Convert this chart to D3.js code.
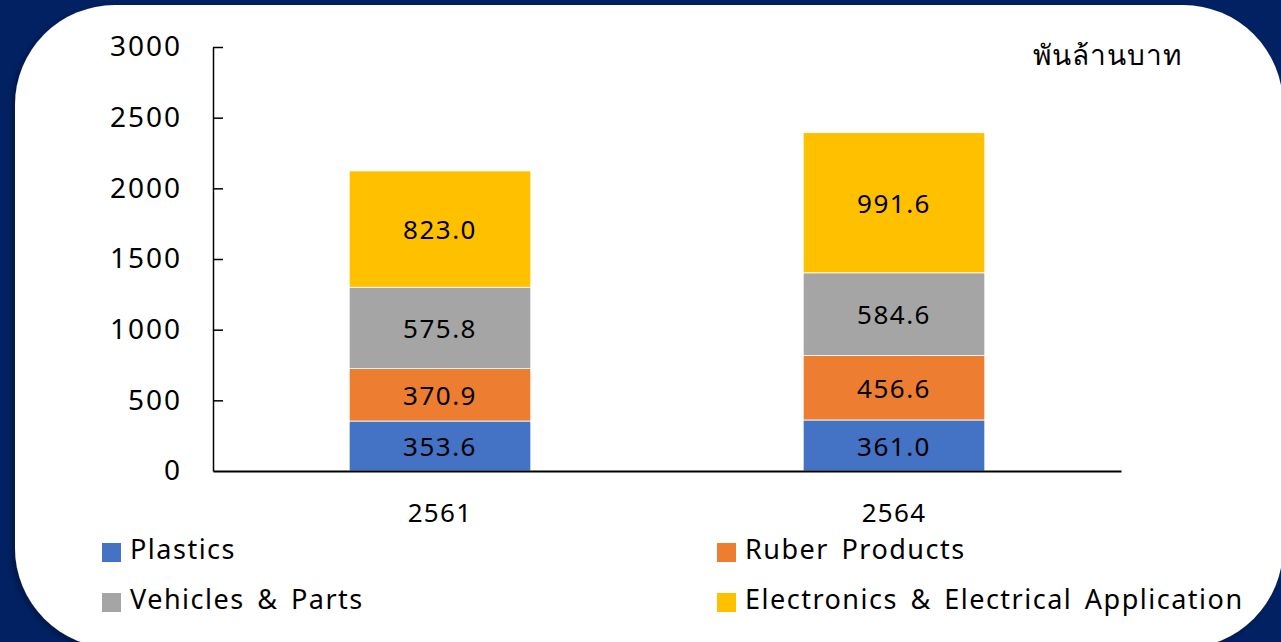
<!DOCTYPE html>
<html lang="th">

<head>
    <meta charset="UTF-8">
    <title>chart</title>
    <script src="https://d3js.org/d3.v7.min.js"></script>
    <style>
        body { margin: 0; background: #012163; }
        svg text { font-family: "Noto Sans", "Open Sans", sans-serif; fill: #000; }
    </style>
</head>

<body>
    <script>
        // data
        var years = ["2561", "2564"];
        var seriesNames = ["Plastics", "Ruber Products", "Vehicles & Parts", "Electronics & Electrical Application"];
        var plastics = [353.6, 361.0];
        var rubber = [370.9, 456.6];
        var vehicles = [575.8, 584.6];
        var electronics = [823.0, 991.6];
        var yTicks = [0, 500, 1000, 1500, 2000, 2500, 3000];
        var unitLabel = "พันล้านบาท";

        var colors = ["#4472C4", "#ED7D31", "#A5A5A5", "#FFC000"];

        var width = 1281, height = 642;
        var svg = d3.select("body").append("svg")
            .attr("width", width)
            .attr("height", height)
            .style("display", "block");

        // white card on navy, soft shadow on the left
        var defs = svg.append("defs");
        var f = defs.append("filter").attr("id", "shd").attr("x", "-5%").attr("y", "-5%").attr("width", "110%").attr("height", "110%");
        f.append("feDropShadow").attr("dx", -3).attr("dy", 2).attr("stdDeviation", 3)
            .attr("flood-color", "#000").attr("flood-opacity", 0.35);

        svg.append("rect")
            .attr("width", width).attr("height", height)
            .attr("fill", "#012163");
        svg.append("rect")
            .attr("x", 15).attr("y", 5)
            .attr("width", 1268).attr("height", 643)
            .attr("rx", 100).attr("ry", 100)
            .attr("fill", "#fff")
            .attr("filter", "url(#shd)");

        var rows = years.map(function (y, i) {
            return { year: y, s0: plastics[i], s1: rubber[i], s2: vehicles[i], s3: electronics[i] };
        });
        var stack = d3.stack().keys(["s0", "s1", "s2", "s3"]);
        var layers = stack(rows);

        var x = d3.scaleBand()
            .domain(years)
            .range([213, 1121])
            .paddingInner(0.6)
            .paddingOuter(0.3);
        var y = d3.scaleLinear()
            .domain([0, 3000])
            .range([471, 47]);

        // bars
        var g = svg.append("g");
        layers.forEach(function (layer, li) {
            g.selectAll(".seg" + li)
                .data(layer)
                .enter()
                .append("rect")
                .attr("x", function (d) { return x(d.data.year); })
                .attr("y", function (d) { return y(d[1]); })
                .attr("width", x.bandwidth())
                .attr("height", function (d) { return y(d[0]) - y(d[1]); })
                .attr("fill", colors[li])
                .attr("stroke", "#fff")
                .attr("stroke-width", 0.8);

            g.selectAll(".lab" + li)
                .data(layer)
                .enter()
                .append("text")
                .attr("x", function (d) { return x(d.data.year) + x.bandwidth() / 2; })
                .attr("y", function (d) { return (y(d[0]) + y(d[1])) / 2 + 1; })
                .attr("dy", "0.36em")
                .attr("text-anchor", "middle")
                .style("font-size", "26px")
                .style("letter-spacing", "1.5px")
                .text(function (d) { return (d[1] - d[0]).toFixed(1); });
        });

        // y axis, ticks point inward
        var yAxis = svg.append("g")
            .attr("transform", "translate(213,0)")
            .call(d3.axisLeft(y).tickValues(yTicks).tickSizeInner(-10).tickSizeOuter(0).tickPadding(31)
                .tickFormat(d3.format("d")));
        yAxis.select(".domain").attr("stroke", "#000").attr("stroke-width", 1.5);
        yAxis.selectAll(".tick line").attr("stroke", "#000").attr("stroke-width", 1.5);
        yAxis.selectAll("text").style("font-size", "28px").style("letter-spacing", "2px").attr("fill", "#000");
        yAxis.selectAll(".tick").filter(function (d) { return d === 0; }).select("line").remove();

        // x axis
        var xAxis = svg.append("g")
            .attr("transform", "translate(0,471)")
            .call(d3.axisBottom(x).tickSize(0).tickPadding(33));
        xAxis.select(".domain").attr("stroke", "#000").attr("stroke-width", 2);
        xAxis.selectAll("text").style("font-size", "26px").style("letter-spacing", "1.3px").attr("fill", "#000");

        // unit
        svg.append("text")
            .attr("x", 1182).attr("y", 65)
            .attr("text-anchor", "end")
            .style("font-size", "28px")
            .style("font-weight", "normal")
            .style("letter-spacing", "1px")
            .text(unitLabel);

        // legend
        var legendPos = [[102, 552], [717, 552], [102, 602], [717, 602]];
        var leg = svg.append("g");
        seriesNames.forEach(function (name, i) {
            var p = legendPos[i];
            leg.append("rect")
                .attr("x", p[0]).attr("y", p[1] - 9)
                .attr("width", 19).attr("height", 19)
                .attr("fill", colors[i]);
            leg.append("text")
                .attr("x", p[0] + 28).attr("y", p[1] - 3)
                .attr("dy", "0.36em")
                .style("font-size", "27px")
                .style("letter-spacing", "1.5px")
                .style("word-spacing", "4px")
                .text(name);
        });
    </script>
</body>

</html>
